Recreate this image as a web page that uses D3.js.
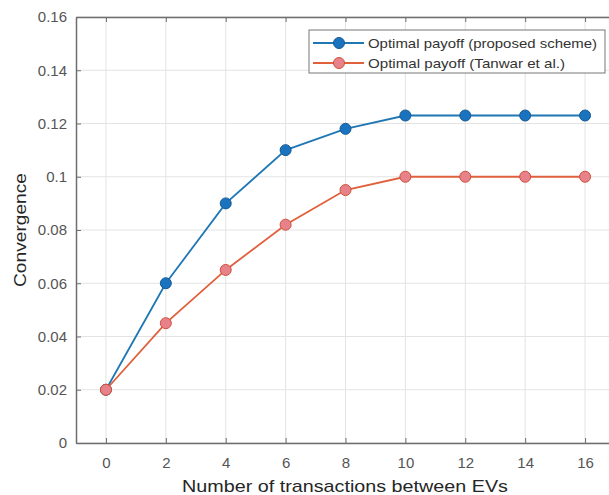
<!DOCTYPE html>
<html>
<head>
<meta charset="utf-8">
<script src="https://cdn.jsdelivr.net/npm/d3@7"></script>
<style>
  body { margin: 0; background: #fff; }
  svg { font-family: Arial, "Liberation Sans", sans-serif; }
</style>
</head>
<body>
<div id="chart"></div>
<script>
// data
var xs = [0, 2, 4, 6, 8, 10, 12, 14, 16];
var proposed = [0.02, 0.06, 0.09, 0.11, 0.118, 0.123, 0.123, 0.123, 0.123];
var tanwar = [0.02, 0.045, 0.065, 0.082, 0.095, 0.1, 0.1, 0.1, 0.1];
var seriesNames = ["Optimal payoff (proposed scheme)", "Optimal payoff (Tanwar et al.)"];
var yTicks = [0, 0.02, 0.04, 0.06, 0.08, 0.1, 0.12, 0.14, 0.16];
var xTicks = [0, 2, 4, 6, 8, 10, 12, 14, 16];

var width = 609, height = 495;
var margin = {top: 17, right: -6, bottom: 52, left: 76};

var svg = d3.select("#chart").append("svg")
    .attr("width", width)
    .attr("height", height);

var x = d3.scaleLinear().domain([-1, 17]).range([margin.left, width - margin.right]);
var y = d3.scaleLinear().domain([0, 0.16]).range([height - margin.bottom, margin.top]);

// grid
svg.append("g").selectAll("line").data(xTicks).enter().append("line")
    .attr("x1", function (d) { return x(d); })
    .attr("x2", function (d) { return x(d); })
    .attr("y1", y(0)).attr("y2", y(0.16))
    .attr("stroke", "#e3e3e3").attr("stroke-width", 1);
svg.append("g").selectAll("line").data(yTicks).enter().append("line")
    .attr("x1", x(-1)).attr("x2", x(17))
    .attr("y1", function (d) { return y(d); })
    .attr("y2", function (d) { return y(d); })
    .attr("stroke", "#e3e3e3").attr("stroke-width", 1);

// axes
var xAxis = svg.append("g")
    .attr("transform", "translate(0," + y(0) + ")")
    .call(d3.axisBottom(x).tickValues(xTicks).tickSizeInner(-5).tickSizeOuter(0).tickPadding(14));
var xTop = svg.append("g")
    .attr("transform", "translate(0," + y(0.16) + ")")
    .call(d3.axisTop(x).tickValues(xTicks).tickSizeInner(-5).tickSizeOuter(0).tickFormat(""));
var yAxis = svg.append("g")
    .attr("transform", "translate(" + x(-1) + ",0)")
    .call(d3.axisLeft(y).tickValues(yTicks).tickSizeInner(-5).tickSizeOuter(0).tickPadding(9)
        .tickFormat(function (d) { return d === 0 ? "0" : d3.format("")(+d.toFixed(2)); }));

[xAxis, xTop, yAxis].forEach(function (g) {
    g.select(".domain").attr("stroke", "#6e6e6e").attr("stroke-width", 1.5);
    g.selectAll(".tick line").attr("stroke", "#6e6e6e");
    g.selectAll(".tick text").attr("fill", "#555").style("font-size", "15px");
});

svg.append("text")
    .attr("x", 345).attr("y", 492)
    .attr("text-anchor", "middle")
    .attr("textLength", 326).attr("lengthAdjust", "spacingAndGlyphs")
    .style("font-size", "17px").attr("fill", "#262626")
    .text("Number of transactions between EVs");

svg.append("text")
    .attr("transform", "translate(26," + 230 + ") rotate(-90)")
    .attr("text-anchor", "middle")
    .attr("textLength", 114).attr("lengthAdjust", "spacingAndGlyphs")
    .style("font-size", "17px").attr("fill", "#262626")
    .text("Convergence");

// lines
var line = d3.line()
    .x(function (d, i) { return x(xs[i]); })
    .y(function (d) { return y(d); });

var series = [
    {values: proposed, stroke: "#1f77b4", fill: "#1a73bf", edge: "#175a94"},
    {values: tanwar, stroke: "#e0603c", fill: "#e8828a", edge: "#d0503a"}
];

series.forEach(function (s) {
    svg.append("path").datum(s.values)
        .attr("d", line)
        .attr("fill", "none")
        .attr("stroke", s.stroke)
        .attr("stroke-width", 1.8);
    svg.append("g").selectAll("circle").data(s.values).enter().append("circle")
        .attr("cx", function (d, i) { return x(xs[i]); })
        .attr("cy", function (d) { return y(d); })
        .attr("r", 5.5)
        .attr("fill", s.fill)
        .attr("stroke", s.edge)
        .attr("stroke-width", 1);
});

// legend
var legendLengths = [229, 197];
var legend = svg.append("g");
legend.append("rect")
    .attr("x", 309).attr("y", 30).attr("width", 296).attr("height", 43)
    .attr("fill", "#fff").attr("stroke", "#777").attr("stroke-width", 1);
seriesNames.forEach(function (name, i) {
    var ly = 43 + i * 20;
    legend.append("line")
        .attr("x1", 313).attr("x2", 364).attr("y1", ly).attr("y2", ly)
        .attr("stroke", series[i].stroke).attr("stroke-width", 1.8);
    legend.append("circle")
        .attr("cx", 339).attr("cy", ly).attr("r", 5.5)
        .attr("fill", series[i].fill).attr("stroke", series[i].edge);
    legend.append("text")
        .attr("x", 368).attr("y", ly + 5)
        .attr("textLength", legendLengths[i]).attr("lengthAdjust", "spacingAndGlyphs")
        .style("font-size", "13.5px").attr("fill", "#333")
        .text(name);
});
</script>
</body>
</html>
